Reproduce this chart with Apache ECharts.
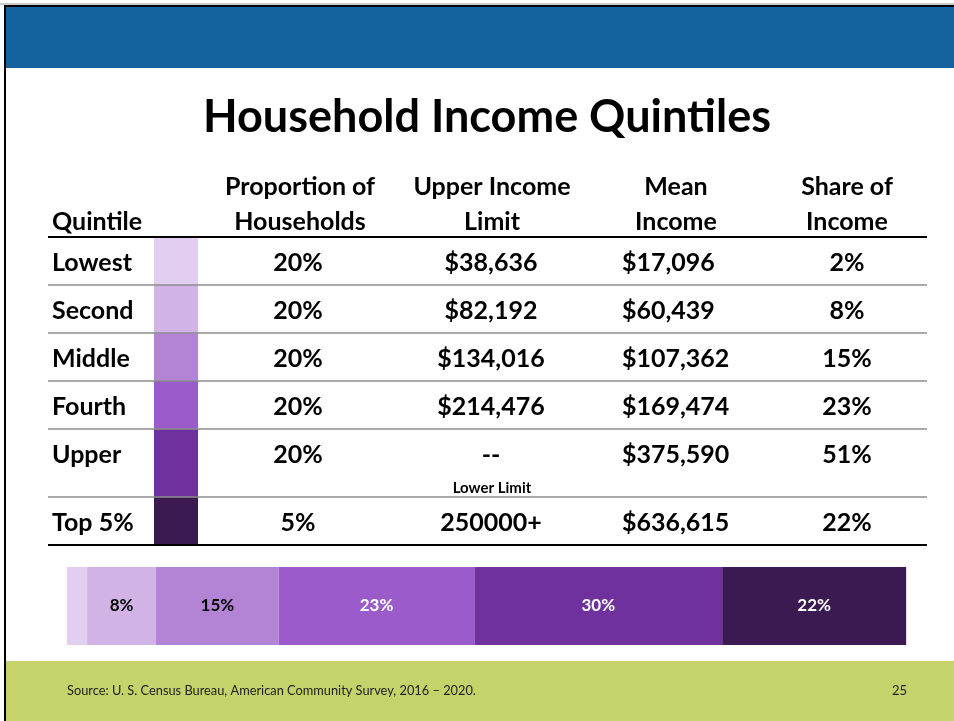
<!DOCTYPE html>
<html>
<head>
<meta charset="utf-8">
<script src="https://cdn.jsdelivr.net/npm/echarts@6/dist/echarts.min.js"></script>
<style>
    html, body { margin:0; padding:0; background:#fff; }
    #slide { width:954px; height:721px; }
</style>
</head>
<body>
<div id="slide"></div>
<script>
    // table data
    var quintiles = ['Lowest', 'Second', 'Middle', 'Fourth', 'Upper', 'Top 5%'];
    var proportion = ['20%', '20%', '20%', '20%', '20%', '5%'];
    var upperLimit = ['$38,636', '$82,192', '$134,016', '$214,476', '--', '250000+'];
    var meanIncome = ['$17,096', '$60,439', '$107,362', '$169,474', '$375,590', '$636,615'];
    var shareOfIncome = ['2%', '8%', '15%', '23%', '51%', '22%'];

    // stacked bar data (upper quintile split into 80-95 and top 5%)
    var barNames = ['Lowest', 'Second', 'Middle', 'Fourth', 'Upper', 'Top 5%'];
    var barShares = [2.4, 8.2, 14.6, 23.3, 29.5, 21.9];

    var colors = ['#E2CEF0', '#D1B4E5', '#B383D6', '#9B5BCB', '#6F319D', '#3B1A52'];
    var labelColors = ['#000', '#000', '#000', '#fff', '#fff', '#fff'];

    var FONT = 'Lato, "Liberation Sans", sans-serif';

    var chart = echarts.init(document.getElementById('slide'));

    // slide frame
    var graphic = [
        {type:'rect', shape:{x:6, y:7, width:948, height:61}, style:{fill:'#14629E'}, z:1},
        {type:'rect', shape:{x:6, y:661, width:948, height:60}, style:{fill:'#C5D36A'}, z:1},
        {type:'line', shape:{x1:0, y1:4, x2:954, y2:4}, style:{stroke:'#999', lineWidth:1}, z:2},
        {type:'line', shape:{x1:4, y1:6, x2:954, y2:6}, style:{stroke:'#000', lineWidth:2}, z:2},
        {type:'line', shape:{x1:5, y1:5, x2:5, y2:721}, style:{stroke:'#000', lineWidth:2}, z:2},
        {type:'text', style:{text:'Source: U. S. Census Bureau, American Community Survey, 2016 \u2013 2020.', x:67, y:691,
            font:'12.8px ' + FONT, fill:'#222', verticalAlign:'middle'}, z:3},
        {type:'text', style:{text:'25', x:907, y:691, font:'13px ' + FONT, fill:'#222', align:'right', verticalAlign:'middle'}, z:3}
    ];

    // table header
    var headFont = 'bold 25px ' + FONT;
    var headers = [
        ['Proportion of\nHouseholds', 300],
        ['Upper Income\nLimit', 492],
        ['Mean\nIncome', 676],
        ['Share of\nIncome', 847]
    ];
    graphic.push({type:'text', style:{text:'Quintile', x:52, y:222, font:headFont, fill:'#000', verticalAlign:'middle'}, z:3});
    headers.forEach(function(h){
        graphic.push({type:'text', style:{text:h[0], x:h[1], y:204.5, font:headFont, lineHeight:35, fill:'#000',
            align:'center', verticalAlign:'middle'}, z:3});
    });

    // rows
    var rowHeights = [48, 48, 48, 48, 68, 47];
    var rowTop = 237;
    quintiles.forEach(function(q, i){
        var h = rowHeights[i];
        var cy = rowTop + 26;
        graphic.push({type:'rect', shape:{x:154, y:rowTop, width:44, height:h}, style:{fill:colors[i]}, z:2});
        graphic.push({type:'text', style:{text:q, x:52, y:cy, font:headFont, fill:'#000', verticalAlign:'middle'}, z:3});
        graphic.push({type:'text', style:{text:proportion[i], x:298, y:cy, font:headFont, fill:'#000', align:'center', verticalAlign:'middle'}, z:3});
        graphic.push({type:'text', style:{text:upperLimit[i], x:491, y:cy, font:headFont, fill:'#000', align:'center', verticalAlign:'middle'}, z:3});
        graphic.push({type:'text', style:{text:meanIncome[i], x:622, y:cy, font:headFont, fill:'#000', verticalAlign:'middle'}, z:3});
        graphic.push({type:'text', style:{text:shareOfIncome[i], x:847, y:cy, font:headFont, fill:'#000', align:'center', verticalAlign:'middle'}, z:3});
        rowTop += h;
        if (i < quintiles.length - 1) {
            graphic.push({type:'line', shape:{x1:48, y1:rowTop, x2:927, y2:rowTop}, style:{stroke:'#8c8c8c', lineWidth:1.5}, z:4});
        }
    });
    graphic.push({type:'text', style:{text:'Lower Limit', x:492, y:488, font:'bold 15px ' + FONT, fill:'#000', align:'center', verticalAlign:'middle'}, z:3});
    graphic.push({type:'line', shape:{x1:48, y1:237, x2:927, y2:237}, style:{stroke:'#000', lineWidth:2}, z:4});
    graphic.push({type:'line', shape:{x1:48, y1:545, x2:927, y2:545}, style:{stroke:'#000', lineWidth:2}, z:4});

    var series = barNames.map(function(name, i){
        return {
            name: name,
            type: 'bar',
            stack: 'share',
            barWidth: '100%',
            itemStyle: { color: colors[i] },
            label: {
                show: i > 0,
                position: 'inside',
                formatter: function(p){ return Math.round(p.value) + '%'; },
                color: labelColors[i],
                fontFamily: FONT,
                fontWeight: 'bold',
                fontSize: 17
            },
            silent: true,
            data: [barShares[i]]
        };
    });

    var option = {
        animation: false,
        title: {
            text: 'Household Income Quintiles',
            left: 482,
            top: 90,
            textAlign: 'center',
            textStyle: { fontFamily: FONT, fontWeight: 'bold', fontSize: 45, color: '#000' }
        },
        grid: { left: 67, width: 840, top: 567, height: 78 },
        xAxis: { type: 'value', min: 0, max: 100, show: false },
        yAxis: { type: 'category', data: ['share'], show: false },
        graphic: graphic,
        series: series
    };
    chart.setOption(option);
</script>
</body>
</html>
